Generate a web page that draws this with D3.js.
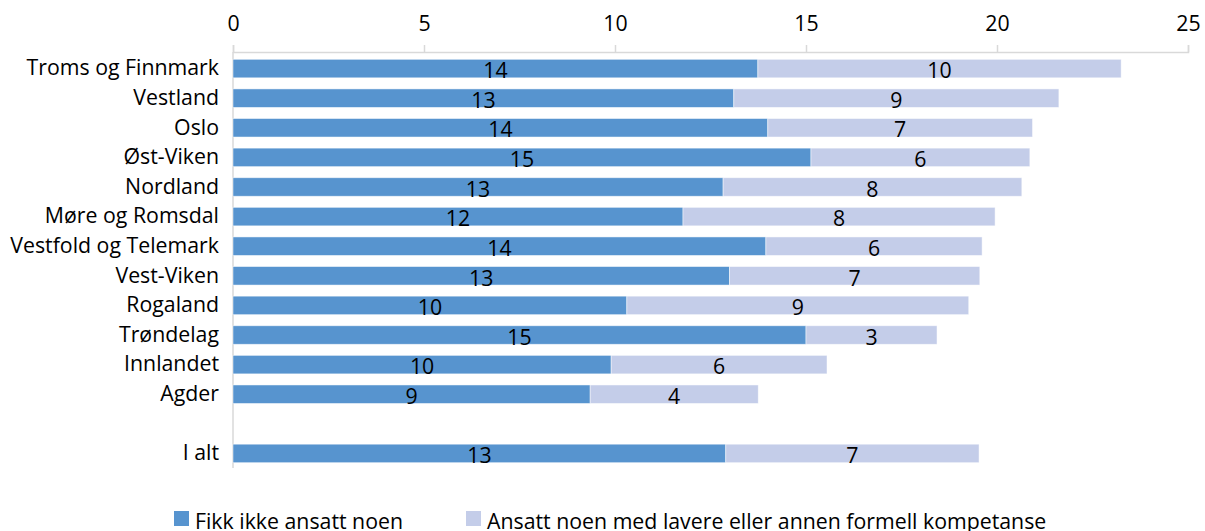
<!DOCTYPE html>
<html>
<head>
<meta charset="utf-8">
<script src="https://cdn.jsdelivr.net/npm/d3@7"></script>
<style>
  body { margin: 0; background: #fff; }
  svg { display: block; font-family: "Open Sans", sans-serif; }
</style>
</head>
<body>
<div id="chart"></div>
<script>
const regions = ['Troms og Finnmark', 'Vestland', 'Oslo', 'Øst-Viken', 'Nordland',
    'Møre og Romsdal', 'Vestfold og Telemark', 'Vest-Viken', 'Rogaland',
    'Trøndelag', 'Innlandet', 'Agder', 'I alt'];
const notHired = [13.74, 13.11, 14.0, 15.13, 12.83, 11.78, 13.95, 13.0, 10.31, 15.0, 9.9, 9.35, 12.9];
const lowerComp = [9.51, 8.51, 6.93, 5.73, 7.82, 8.17, 5.66, 6.55, 8.95, 3.43, 5.65, 4.4, 6.63];
const seriesNames = ['Fikk ikke ansatt noen', 'Ansatt noen med lavere eller annen formell kompetanse'];
const xTicks = [0, 5, 10, 15, 20, 25];

let width = 1205,
    height = 531,
    plotLeft = 233,
    plotRight = 1188,
    plotTop = 52,
    fontSize = 21.3;

const colors = ['#5794cf', '#c4cde9'];

// empty slot between Agder and I alt
const domain = regions.slice(0, 12).concat(['', 'I alt']);

let x = d3.scaleLinear().domain([0, 25]).range([plotLeft, plotRight]);
let y = d3.scaleBand().domain(domain).range([plotTop, 470])
    .paddingInner(0.375).paddingOuter(0.247);

const svg = d3.select('#chart').append('svg')
    .attr('width', width)
    .attr('height', height);

// top axis
const xAxis = svg.append('g')
    .attr('transform', 'translate(0,' + plotTop + ')')
    .call(d3.axisTop(x).tickValues(xTicks).tickSize(7).tickPadding(14.3));
xAxis.select('.domain').attr('stroke', '#d9d9d9').attr('stroke-width', 1.5);
xAxis.selectAll('.tick line').attr('stroke', '#d9d9d9').attr('stroke-width', 1.5);
xAxis.selectAll('.tick text')
    .attr('font-size', fontSize)
    .attr('fill', '#000')
    .style('font-family', '"Open Sans", sans-serif');

// vertical axis line
svg.append('line')
    .attr('x1', x(0)).attr('x2', x(0))
    .attr('y1', plotTop).attr('y2', 468)
    .attr('stroke', '#d9d9d9')
    .attr('stroke-width', 1.5);

const rows = regions.map(function(r, i) {
    return { name: r, a: notHired[i], b: lowerComp[i] };
});

const g = svg.selectAll('g.row').data(rows)
    .enter().append('g')
    .attr('class', 'row')
    .attr('transform', function(d) { return 'translate(0,' + y(d.name) + ')'; });

g.append('rect')
    .attr('x', x(0))
    .attr('width', function(d) { return x(d.a) - x(0); })
    .attr('height', y.bandwidth())
    .attr('fill', colors[0])
    .attr('stroke', '#fff')
    .attr('stroke-opacity', 0.6)
    .attr('stroke-width', 0.8);

g.append('rect')
    .attr('x', function(d) { return x(d.a); })
    .attr('width', function(d) { return x(d.a + d.b) - x(d.a); })
    .attr('height', y.bandwidth())
    .attr('fill', colors[1])
    .attr('stroke', '#fff')
    .attr('stroke-opacity', 0.6)
    .attr('stroke-width', 0.8);

// value labels
g.append('text')
    .attr('x', function(d) { return (x(0) + x(d.a)) / 2; })
    .attr('y', y.bandwidth() / 2 + 9.7)
    .attr('text-anchor', 'middle')
    .attr('font-size', fontSize)
    .text(function(d) { return Math.round(d.a); });

g.append('text')
    .attr('x', function(d) { return (x(d.a) + x(d.a + d.b)) / 2; })
    .attr('y', y.bandwidth() / 2 + 9.7)
    .attr('text-anchor', 'middle')
    .attr('font-size', fontSize)
    .text(function(d) { return Math.round(d.b); });

// category labels
g.append('text')
    .attr('x', 219)
    .attr('y', y.bandwidth() / 2 + 6.8)
    .attr('text-anchor', 'end')
    .attr('font-size', fontSize)
    .text(function(d) { return d.name; });

// legend (cut by the bottom edge, as in the original)
const legend = svg.append('g');
const legendX = [174, 466];
seriesNames.forEach(function(s, i) {
    legend.append('rect')
        .attr('x', legendX[i])
        .attr('y', 511)
        .attr('width', 15)
        .attr('height', 15)
        .attr('fill', colors[i]);
    legend.append('text')
        .attr('x', legendX[i] + 21)
        .attr('y', 529.3)
        .attr('font-size', fontSize)
        .text(s);
});
</script>
</body>
</html>
